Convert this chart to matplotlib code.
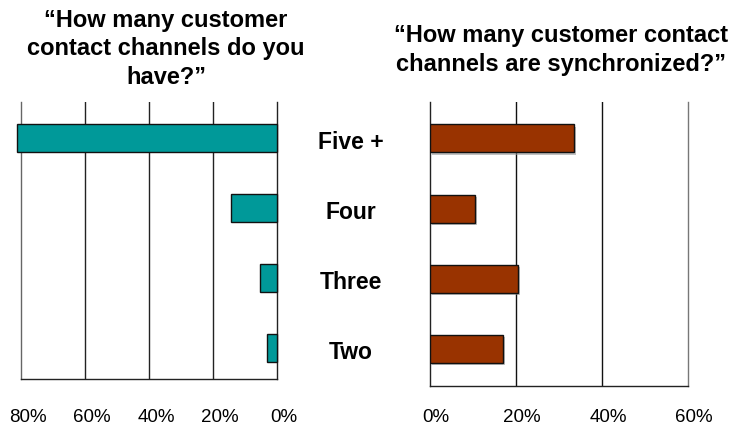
import matplotlib.pyplot as plt
import matplotlib.transforms as mtransforms
import matplotlib.patheffects as pe

plt.rcParams['font.family'] = ['Liberation Sans', 'DejaVu Sans']

categories = ['Two', 'Three', 'Four', 'Five +']
have_vals = [3.1, 5.3, 14.4, 81.2]
sync_vals = [17.0, 20.4, 10.5, 33.5]
left_ticks = [80, 60, 40, 20, 0]
right_ticks = [0, 20, 40, 60]
title_left = '\u201cHow many customer\ncontact channels do you\nhave?\u201d'
title_right = '\u201cHow many customer contact\nchannels are synchronized?\u201d'

fig = plt.figure(figsize=(7.37, 4.27), dpi=100)
ax1 = fig.add_axes([21/737, 47/427, 256/737, 277/427])
ax2 = fig.add_axes([430/737, 40/427, 258/737, 284/427])

ypos = list(range(len(categories)))

# left panel, reversed axis
ax1.barh(ypos, have_vals, height=0.4, color='#009999', edgecolor='#111111',
         linewidth=1, clip_on=False, zorder=3)
ax1.set_xlim(80, 0)
ax1.set_ylim(-0.44, 3.52)
ax1.set_xticks(left_ticks)
ax1.set_xticklabels([f'{t}%' for t in left_ticks])
for t in [60, 40, 20]:
    ax1.axvline(t, color='#222222', lw=1, zorder=1)

# right panel
bars = ax2.barh(ypos, sync_vals, height=0.4, color='#993300', edgecolor='#111111',
                linewidth=1, zorder=3)
for b in bars:
    b.set_path_effects([pe.SimplePatchShadow(offset=(1.5, -1.5), shadow_rgbFace='#999999', alpha=0.6),
                        pe.Normal()])
ax2.set_xlim(0, 60)
ax2.set_ylim(-0.53, 3.52)
ax2.set_xticks(right_ticks)
ax2.set_xticklabels([f'{t}%' for t in right_ticks])
for t in [20, 40]:
    ax2.axvline(t, color='#111111', lw=1, zorder=1)

for ax, pad, dx in [(ax1, 21, 7), (ax2, 16, 6)]:
    ax.spines['top'].set_visible(False)
    for s in ['left', 'right', 'bottom']:
        ax.spines[s].set_color('#222222')
        ax.spines[s].set_linewidth(1)
    ax.set_yticks([])
    ax.tick_params(axis='x', length=0, pad=pad, labelsize=13.5)
    off = mtransforms.ScaledTranslation(dx / 100, 0, fig.dpi_scale_trans)
    for lab in ax.get_xticklabels():
        lab.set_transform(lab.get_transform() + off)
ax2.spines['right'].set_color('#777777')
ax1.spines['left'].set_color('#666666')

# category labels in the middle
trans = mtransforms.blended_transform_factory(fig.transFigure, ax1.transData)
for y, c in zip(ypos, categories):
    fig.text(351/737, y - 0.05, c, transform=trans, ha='center', va='center',
             fontsize=16.5, fontweight='bold')

fig.text(166/737, 1 - 49/427, title_left, ha='center', va='center',
         fontsize=17, fontweight='bold', linespacing=1.3)
fig.text(561/737, 1 - 50/427, title_right, ha='center', va='center',
         fontsize=17, fontweight='bold', linespacing=1.3)

fig.savefig('out.png', dpi=100)
